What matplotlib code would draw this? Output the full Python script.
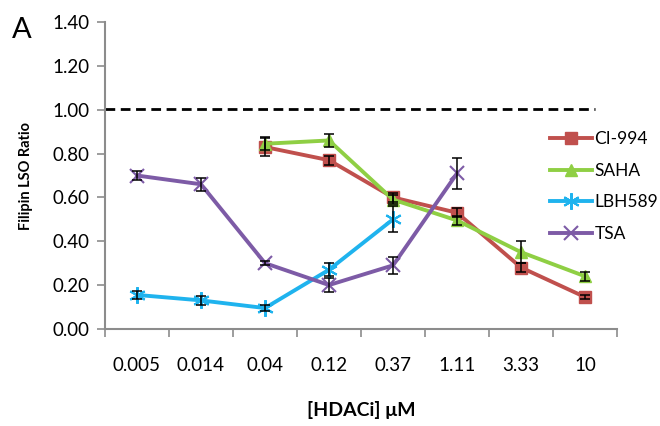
import matplotlib.pyplot as plt
import numpy as np

plt.rcParams['font.family'] = ['Lato', 'DejaVu Sans']

doses = ["0.005", "0.014", "0.04", "0.12", "0.37", "1.11", "3.33", "10"]

# values per dose (None = not tested)
ci994 = [None, None, 0.83, 0.77, 0.60, 0.53, 0.28, 0.145]
ci994_err = [0, 0, 0.04, 0.02, 0.02, 0.02, 0.02, 0.01]
saha = [None, None, 0.845, 0.86, 0.59, 0.495, 0.35, 0.24]
saha_err = [0, 0, 0.03, 0.03, 0.02, 0.02, 0.05, 0.02]
lbh589 = [0.155, 0.13, 0.095, 0.27, 0.50, None, None, None]
lbh589_err = [0.02, 0.02, 0.015, 0.03, 0.06, 0, 0, 0]
tsa = [0.70, 0.66, 0.30, 0.20, 0.29, 0.71, None, None]
tsa_err = [0.02, 0.03, 0.01, 0.03, 0.04, 0.07, 0, 0]

series = [
    ("CI-994", ci994, ci994_err, "#c0504d", "s", 9),
    ("SAHA", saha, saha_err, "#8fcf44", "^", 9),
    ("LBH589", lbh589, lbh589_err, "#1fb3ee", (6, 2, 0), 12),
    ("TSA", tsa, tsa_err, "#7d5ba6", "x", 10),
]

fig = plt.figure(figsize=(6.6, 4.26), dpi=100)
ax = fig.add_axes([0.159, 0.228, 0.776, 0.72])

x = np.arange(len(doses))
for name, vals, errs, color, marker, ms in series:
    xs = [xi for xi, v in zip(x, vals) if v is not None]
    ys = [v for v in vals if v is not None]
    es = [e for v, e in zip(vals, errs) if v is not None]
    ax.errorbar(xs, ys, yerr=es, fmt="none", ecolor="black", elinewidth=1.1,
                capsize=3.5, capthick=1.1, zorder=4)
    ax.plot(xs, ys, color=color, lw=2.8, marker=marker, ms=ms,
            mew=1.5 if marker == "x" or isinstance(marker, tuple) else 1,
            label=name, zorder=3)

# reference line
ax.plot([-0.5, 7.15], [1.005, 1.005], color="black", lw=2, ls=(0, (3.5, 2)),
        zorder=2)

ax.set_xlim(-0.5, 7.5)
ax.set_ylim(0, 1.4)
yt = np.arange(0, 1.41, 0.2)
ax.set_yticks(yt)
ax.set_yticklabels([f"{v:.2f}" for v in yt], fontsize=13.5)
ax.set_xticks(x)
ax.set_xticklabels(doses, fontsize=13.5)
ax.set_xticks(np.arange(-0.5, 7.6, 1), minor=True)
ax.tick_params(axis="x", which="major", length=0, pad=20)
ax.tick_params(axis="x", which="minor", length=6, color="#8c8c8c", width=1.2)
ax.tick_params(axis="y", length=6, color="#8c8c8c", width=1.2, pad=5)

for s in ("top", "right"):
    ax.spines[s].set_visible(False)
for s in ("left", "bottom"):
    ax.spines[s].set_color("#8c8c8c")
    ax.spines[s].set_linewidth(1.5)

ax.set_ylabel("Filipin LSO Ratio", fontsize=10.5, fontweight="bold", labelpad=14)
ax.set_xlabel("[HDACi] \u03bcM", fontsize=14, fontweight="bold", labelpad=20)

fig.text(0.018, 0.91, "A", fontsize=21)

ax.legend(loc="upper left", bbox_to_anchor=(0.839, 0.696), frameon=False,
          fontsize=12.5, handlelength=2.4, labelspacing=0.9, handletextpad=0.15,
          borderaxespad=0.5)

plt.savefig("out.png", dpi=100)
